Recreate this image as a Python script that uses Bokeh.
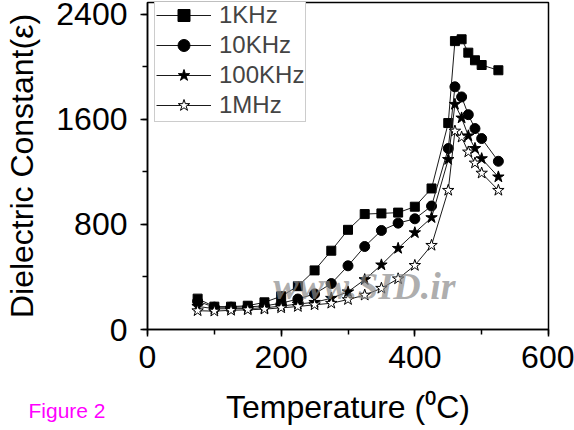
from bokeh.plotting import figure
from bokeh.models import (Legend, LegendItem, Label, SingleIntervalTicker, Title)
from bokeh.embed import file_html
from bokeh.resources import INLINE

# ---- data ----
temperature = [75, 100, 125, 150, 175, 200, 225, 250, 275, 300, 325, 350, 375,
               400, 425, 450, 460, 470, 480, 490, 500, 525]
eps_1khz = [235, 174, 174, 181, 207, 253, 330, 450, 600, 759, 879, 884, 890,
            935, 1074, 1572, 2196, 2210, 2108, 2050, 2014, 1974]
eps_10khz = [215, 170, 170, 172, 180, 200, 232, 271, 350, 485, 632, 754, 810,
             843, 940, 1378, 1848, 1771, 1636, 1530, 1454, 1281]
eps_100khz = [176, 158, 158, 160, 165, 178, 194, 207, 238, 287, 380, 492, 618,
              737, 852, 1295, 1715, 1611, 1475, 1379, 1301, 1162]
eps_1mhz = [143, 140, 146, 150, 155, 165, 175, 188, 200, 228, 262, 314, 386,
            488, 641, 1060, 1511, 1465, 1352, 1268, 1191, 1060]
series_labels = ["1KHz", "10KHz", "100KHz", "1MHz"]

FONT = "Liberation Sans"

p = figure(width=574, height=430, x_range=(0, 600), y_range=(0, 2490),
           output_backend="svg", toolbar_location=None,
           min_border_left=147, min_border_right=26, min_border_top=2,
           min_border_bottom=101, background_fill_color="white",
           border_fill_color="white")
p.grid.visible = False
p.outline_line_color = "black"
p.outline_line_width = 1.5

p.xaxis.ticker = SingleIntervalTicker(interval=200, num_minor_ticks=2)
p.yaxis.ticker = SingleIntervalTicker(interval=800, num_minor_ticks=2)

for ax in (p.xaxis[0], p.yaxis[0]):
    ax.axis_line_color = "black"
    ax.axis_line_width = 1.5
    ax.major_tick_line_color = "black"
    ax.major_tick_line_width = 1.5
    ax.minor_tick_line_color = "black"
    ax.minor_tick_line_width = 1.5
    ax.major_tick_in = 0
    ax.major_tick_out = 7
    ax.minor_tick_in = 0
    ax.minor_tick_out = 5
    ax.major_label_text_font = FONT
    ax.major_label_text_font_size = "32px"
    ax.major_label_text_color = "black"
    ax.axis_label_text_font = FONT
    ax.axis_label_text_font_size = "32px"
    ax.axis_label_text_font_style = "normal"
    ax.axis_label_text_color = "black"

p.xaxis.axis_label = "Temperature (\u2070C)"
p.yaxis.axis_label = "Dielectric Constant(\u03b5)"
p.xaxis.major_label_standoff = 9
p.yaxis.major_label_standoff = 13
p.xaxis.axis_label_standoff = 18
p.yaxis.axis_label_standoff = 13

line_col = "#1a1a1a"
specs = [
    (eps_1khz, "square", 9, "black"),
    (eps_10khz, "circle", 10, "black"),
    (eps_100khz, "star", 12, "black"),
    (eps_1mhz, "star", 12, "white"),
]
items = []
for (vals, marker, size, fill), lab in zip(specs, series_labels):
    lr = p.line(temperature, vals, line_color=line_col, line_width=1)
    sr = p.scatter(temperature, vals, marker=marker, size=size,
                   fill_color=fill, line_color="black", line_width=1)
    items.append(LegendItem(label=lab, renderers=[lr, sr]))

legend = Legend(items=items, location=(7, 207), margin=0, padding=1,
                spacing=0, glyph_width=55, glyph_height=30, label_height=30,
                label_standoff=8, label_text_font=FONT,
                label_text_font_size="24px", border_line_color="#9a9a9a",
                border_line_width=1, background_fill_color="white",
                background_fill_alpha=1)
p.add_layout(legend, "center")

watermark = Label(x=188, y=172, text="www.SID.ir", text_font="Liberation Serif",
                  text_font_size="38px", text_font_style="bold italic",
                  text_color="#8a8a8a", text_alpha=0.7)
p.add_layout(watermark)

# caption at lower left, outside the frame (side panel is not clipped)
caption = Title(text="Figure 2", align="left", vertical_align="top",
                offset=-119, standoff=-58,
                text_font=FONT, text_font_size="21px", text_color="#FF00FF",
                text_font_style="normal")
p.add_layout(caption, "below")

open("out.html", "w").write(file_html(p, INLINE))
